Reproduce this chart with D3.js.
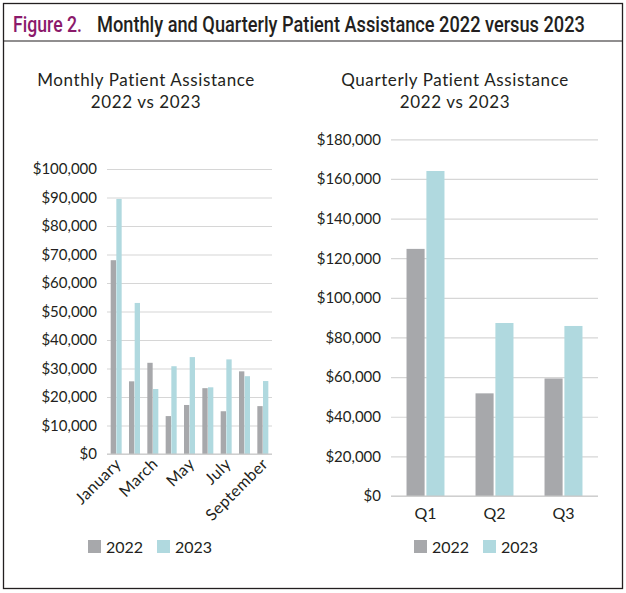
<!DOCTYPE html>
<html><head><meta charset="utf-8">
<script src="https://cdn.jsdelivr.net/npm/d3@7"></script>
<style>
html,body{margin:0;padding:0;background:#fff;}
svg{display:block;}
text{font-family:Lato,"Noto Sans",sans-serif;fill:#231f20;}
</style></head>
<body><svg id="c" width="626" height="593"></svg>
<script>
const months = ["January","February","March","April","May","June","July","August","September"];
const monthly2022 = [68000,25500,32000,13300,17200,23100,15000,29000,16800];
const monthly2023 = [89500,53000,22800,30800,34000,23400,33200,27300,25600];
const quarters = ["Q1","Q2","Q3"];
const quarterly2022 = [124700,51800,59300];
const quarterly2023 = [164000,87300,85800];
const series = ["2022","2023"];
const monthlyTicks = [0,10000,20000,30000,40000,50000,60000,70000,80000,90000,100000];
const quarterlyTicks = [0,20000,40000,60000,80000,100000,120000,140000,160000,180000];
const colors = {"2022":"#a7a8ab","2023":"#b0d9df"};

const svg = d3.select("#c");
// frame
svg.append("rect").attr("x",3.5).attr("y",3.5).attr("width",619).attr("height",585)
  .attr("fill","none").attr("stroke","#231f20").attr("stroke-width",1.3);
svg.append("line").attr("x1",3.5).attr("x2",622.5).attr("y1",41).attr("y2",41)
  .attr("stroke","#231f20").attr("stroke-width",1.2);

function fitText(str, x, y, target, color){
  const t = svg.append("text").attr("font-size",22)
    .style("font-family","Roboto,'Open Sans',sans-serif").style("font-weight",500)
    .style("fill",color).text(str);
  const w = t.node().getComputedTextLength() || target;
  t.attr("transform",`translate(${x},${y}) scale(${target/w},1)`);
}
fitText("Figure 2.", 13, 32, 69, "#8b1a6b");
fitText("Monthly and Quarterly Patient Assistance 2022 versus 2023", 97, 32, 488, "#231f20");

const fmt = d => "$" + d3.format(",")(d);

function chart(opt){
  const g = svg.append("g");
  const x = d3.scaleBand().domain(opt.cats).range([opt.x0,opt.x1])
    .paddingInner(opt.pi).paddingOuter(opt.po);
  const xs = d3.scaleBand().domain(series).range([0,x.bandwidth()]).paddingInner(opt.sp);
  const y = d3.scaleLinear().domain([0,opt.max]).range([opt.y0,opt.y1]);
  // title
  opt.title.forEach((t,i)=>{
    g.append("text").attr("x",opt.tx).attr("y",86+i*22).attr("text-anchor","middle")
      .attr("font-size",17).style("letter-spacing","0.6px").text(t);
  });
  // grid
  const yAxis = d3.axisLeft(y).tickValues(opt.ticks).tickFormat(fmt)
    .tickSize(-(opt.x1-opt.x0)).tickPadding(10);
  const ga = g.append("g").attr("transform",`translate(${opt.x0},0)`).call(yAxis);
  ga.select(".domain").remove();
  ga.selectAll(".tick line").attr("stroke","#d6d6d6").attr("stroke-width",1.2);
  ga.selectAll(".tick text").attr("font-size",15).style("fill","#231f20")
    .style("font-family","Lato,sans-serif");
  // bars
  const data = opt.cats.map((c,i)=>({c, v:[opt.a[i],opt.b[i]]}));
  const grp = g.selectAll(".grp").data(data).join("g")
    .attr("transform",d=>`translate(${x(d.c)},0)`);
  grp.selectAll("rect").data(d=>series.map((s,j)=>({s,v:d.v[j]}))).join("rect")
    .attr("x",d=>xs(d.s)).attr("width",xs.bandwidth())
    .attr("y",d=>y(d.v)).attr("height",d=>y(0)-y(d.v))
    .attr("fill",d=>colors[d.s]);
  // baseline
  g.append("line").attr("x1",opt.x0).attr("x2",opt.x1).attr("y1",y(0)).attr("y2",y(0))
    .attr("stroke","#c8c8c8").attr("stroke-width",1.2);
  // x labels
  const xAxis = d3.axisBottom(x).tickSize(0).tickPadding(0);
  const gx = g.append("g").attr("transform",`translate(0,${y(0)})`).call(xAxis);
  gx.select(".domain").remove();
  gx.selectAll(".tick text").style("font-family","Lato,sans-serif").style("fill","#231f20");
  opt.xlab(gx, x);
  // legend
  opt.leg.forEach((lx,i)=>{
    g.append("rect").attr("x",lx).attr("y",540).attr("width",13).attr("height",13)
      .attr("fill",colors[series[i]]);
    g.append("text").attr("x",lx+18).attr("y",553).attr("font-size",16).text(series[i]);
  });
}

chart({cats:months,a:monthly2022,b:monthly2023,x0:107,x1:272,pi:0.4,po:0.2,sp:0.06,
  max:100000,y0:454,y1:169,ticks:monthlyTicks,tx:146,
  title:["Monthly Patient Assistance","2022 vs 2023"],leg:[88,157],
  xlab:(gx,x)=>{
    gx.selectAll(".tick text")
      .style("display",(d,i)=> i%2===0 ? null : "none")
      .attr("font-size",16).style("letter-spacing","0.4px").attr("text-anchor","end")
      .attr("dy",0).attr("y",0)
      .attr("transform","translate(6,11) rotate(-45)");
  }});

chart({cats:quarters,a:quarterly2022,b:quarterly2023,x0:391,x1:598,pi:0.45,po:0.225,sp:0.09,
  max:180000,y0:496,y1:139.3,ticks:quarterlyTicks,tx:455,
  title:["Quarterly Patient Assistance","2022 vs 2023"],leg:[414,483],
  xlab:(gx,x)=>{
    gx.selectAll(".tick text").attr("font-size",16).attr("y",23).attr("dy",0);
  }});
</script></body></html>
